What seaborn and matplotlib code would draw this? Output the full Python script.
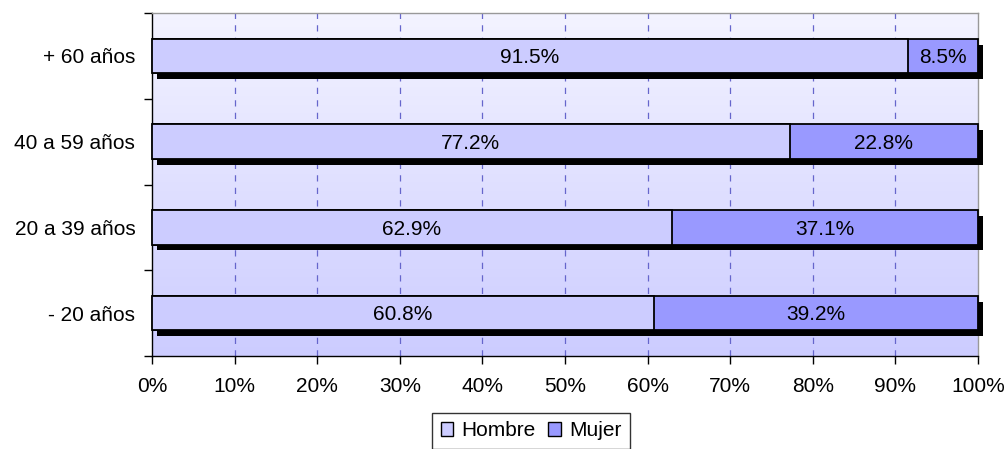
import numpy as np
import pandas as pd
import seaborn as sns
import matplotlib
matplotlib.use("Agg")
import matplotlib.pyplot as plt
import matplotlib.patheffects as pe
from matplotlib.patches import Patch

# Data
grupos = ["+ 60 años", "40 a 59 años", "20 a 39 años", "- 20 años"]
hombre = [91.5, 77.2, 62.9, 60.8]
mujer = [8.5, 22.8, 37.1, 39.2]

df = pd.DataFrame({"grupo": grupos, "Hombre": hombre, "Mujer": mujer})
df["total"] = df["Hombre"] + df["Mujer"]

sns.set_style("white", {"text.color": "black", "xtick.color": "black",
                        "ytick.color": "black", "axes.labelcolor": "black",
                        "xtick.bottom": True, "ytick.left": True})
plt.rcParams["font.family"] = ["Liberation Sans", "DejaVu Sans"]
FS = 15

fig = plt.figure(figsize=(10.07, 4.49), dpi=100)
ax = fig.add_axes([152 / 1007, 1 - 356 / 449, 826 / 1007, 343 / 449])

# gradient background
grad = np.linspace(0, 1, 256).reshape(-1, 1)
top = np.array([0.955, 0.955, 1.0])
bot = np.array([0.80, 0.80, 1.0])
img = top + (bot - top) * grad[:, :, None]
ax.imshow(img, extent=[0, 100, 3.5, -0.5], aspect="auto", zorder=0)

shadow = [pe.SimplePatchShadow(offset=(3.6, -4.3), shadow_rgbFace="black", alpha=1), pe.Normal()]

sns.barplot(data=df, y="grupo", x="total", orient="h", color="#9999FF", width=0.4,
            saturation=1, edgecolor="black", linewidth=1.3, ax=ax, zorder=3)
for p in ax.patches:
    p.set_path_effects(shadow)
    p.set_clip_on(False)
sns.barplot(data=df, y="grupo", x="Hombre", orient="h", color="#CCCCFF", width=0.4,
            saturation=1, edgecolor="black", linewidth=1.3, ax=ax, zorder=4)

# labels
for i, (h, m) in enumerate(zip(hombre, mujer)):
    ax.text(h / 2, i + 0.02, f"{h}%", ha="center", va="center", fontsize=FS, zorder=5)
    ax.text(h + m / 2, i + 0.02, f"{m}%", ha="center", va="center", fontsize=FS, zorder=5)

ax.set_xlim(0, 100)
ax.set_ylim(3.5, -0.5)
ax.set_xticks(np.arange(0, 101, 10))
ax.set_xticklabels([f"{v}%" for v in range(0, 101, 10)], fontsize=FS)
ax.set_yticks(np.arange(-0.5, 4, 1), minor=False)
ax.set_yticklabels([])
ax.set_yticks(range(4), minor=True)
ax.set_yticklabels(grupos, minor=True, fontsize=FS)
ax.tick_params(axis="y", which="minor", left=False, length=0, pad=12)
ax.tick_params(axis="y", which="major", left=True, length=6, width=1, direction="out", color="black")
ax.tick_params(axis="x", bottom=True, length=6, width=1, direction="out", color="black", pad=9)
ax.set_xlabel("")
ax.set_ylabel("")

for v in range(10, 100, 10):
    ax.axvline(v, color="#6666CC", linestyle=(0, (5, 5)), linewidth=0.9, zorder=1)

for s in ["left", "bottom"]:
    ax.spines[s].set_color("black")
    ax.spines[s].set_linewidth(1)
for s in ["top", "right"]:
    ax.spines[s].set_color("#999999")
    ax.spines[s].set_linewidth(1)

handles = [Patch(facecolor="#CCCCFF", edgecolor="black", label="Hombre"),
           Patch(facecolor="#9999FF", edgecolor="black", label="Mujer")]
leg = fig.legend(handles=handles, loc="upper center", bbox_to_anchor=(531 / 1007, 1 - 413 / 449),
                 ncol=2, frameon=True, fontsize=FS, handlelength=0.6, handleheight=0.6,
                 handletextpad=0.4, columnspacing=0.6, borderpad=0.4, borderaxespad=0,
                 fancybox=False)
leg.get_frame().set_edgecolor("black")
leg.get_frame().set_linewidth(1)

fig.savefig("out.png", dpi=100)
